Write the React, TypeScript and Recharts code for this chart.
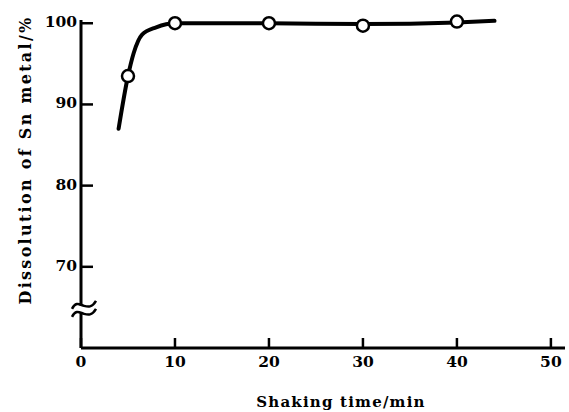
import React from "react";
import {
  LineChart,
  Line,
  XAxis,
  YAxis,
  ReferenceDot,
} from "recharts";

// measured points (open circles)
const sampleTimes = [5, 10, 20, 30, 40];
const sampleDissolution = [93.5, 100, 100, 99.7, 100.2];

// hand-drawn trend curve
const curveTimes = [4, 5, 5.6, 6.5, 8, 10, 20, 30, 40, 44];
const curveValues = [87, 93.5, 96.3, 98.6, 99.5, 100, 100, 99.9, 100.1, 100.3];

const xTicks = [0, 10, 20, 30, 40, 50];
const yTicks = [70, 80, 90, 100];
const axisBreakAt = 64.7;

const samples = sampleTimes.map((t, i) => ({ t, v: sampleDissolution[i] }));
const curve = curveTimes.map((t, i) => ({ t, v: curveValues[i] }));

const FONT = "'DejaVu Serif', serif";

const XTick = ({ x, y, payload }: any) => (
  <g>
    <line x1={x} y1={y} x2={x} y2={y - 10} stroke="#000" strokeWidth={2.5} />
    <text
      x={x}
      y={y + 15}
      textAnchor="middle"
      dominantBaseline="middle"
      fontFamily={FONT}
      fontWeight="bold"
      fontSize={15.5}
      fill="#000"
    >
      {payload.value}
    </text>
  </g>
);

const YTick = ({ x, y, payload }: any) => (
  <g>
    <line x1={x} y1={y} x2={x + 12} y2={y} stroke="#000" strokeWidth={2.5} />
    <text
      x={x - 4}
      y={y}
      textAnchor="end"
      dominantBaseline="middle"
      fontFamily={FONT}
      fontWeight="bold"
      fontSize={15.5}
      fill="#000"
    >
      {payload.value}
    </text>
  </g>
);

const AxisBreak = ({ cx, cy }: any) => (
  <g>
    <rect x={cx - 4} y={cy - 4} width={8} height={7} fill="#fff" />
    <path
      d={`M${cx - 9},${cy - 1} c4,-8 8,-4 12,-3 s8,2 12,-5`}
      fill="none"
      stroke="#000"
      strokeWidth={2.5}
    />
    <path
      d={`M${cx - 9},${cy + 7} c4,-8 8,-4 12,-3 s8,2 12,-5`}
      fill="none"
      stroke="#000"
      strokeWidth={2.5}
    />
  </g>
);

const Marker = ({ cx, cy }: any) => (
  <circle cx={cx} cy={cy} r={6} fill="#fff" stroke="#000" strokeWidth={2.5} />
);

export default function App() {
  return (
    <div style={{ position: "absolute", left: 0, top: 0, background: "#fff" }}>
      <LineChart
        width={569}
        height={412}
        margin={{ top: 20, right: 4, left: 40, bottom: 34 }}
      >
        <XAxis
          type="number"
          dataKey="t"
          domain={[0, 51.5]}
          ticks={xTicks}
          tickSize={0}
          tickMargin={0}
          tickLine={false}
          tick={<XTick />}
          axisLine={{ stroke: "#000", strokeWidth: 3 }}
          height={30}
          label={{
            content: () => (
              <text
                x={341}
                y={403}
                textAnchor="middle"
                dominantBaseline="middle"
                fontFamily={FONT}
                fontWeight="bold"
                fontSize={15}
                letterSpacing={1.2}
                fill="#000"
              >
                Shaking time/min
              </text>
            ),
          }}
        />
        <YAxis
          type="number"
          dataKey="v"
          domain={[60, 100.4]}
          ticks={yTicks}
          tickSize={0}
          tickMargin={0}
          tickLine={false}
          tick={<YTick />}
          axisLine={{ stroke: "#000", strokeWidth: 3 }}
          width={41}
          label={{
            content: () => (
              <text
                x={26}
                y={160}
                transform="rotate(-90 26 160)"
                textAnchor="middle"
                dominantBaseline="middle"
                fontFamily={FONT}
                fontWeight="bold"
                fontSize={16}
                letterSpacing={2.3}
                fill="#000"
              >
                Dissolution of Sn metal/%
              </text>
            ),
          }}
        />
        <Line
          data={curve}
          dataKey="v"
          type="monotone"
          stroke="#000"
          strokeWidth={4}
          strokeLinecap="round"
          dot={false}
          activeDot={false}
          isAnimationActive={false}
        />
        <Line
          data={samples}
          dataKey="v"
          stroke="none"
          dot={<Marker />}
          activeDot={false}
          isAnimationActive={false}
        />
        <ReferenceDot
          x={0}
          y={axisBreakAt}
          ifOverflow="visible"
          shape={<AxisBreak />}
        />
      </LineChart>
    </div>
  );
}
